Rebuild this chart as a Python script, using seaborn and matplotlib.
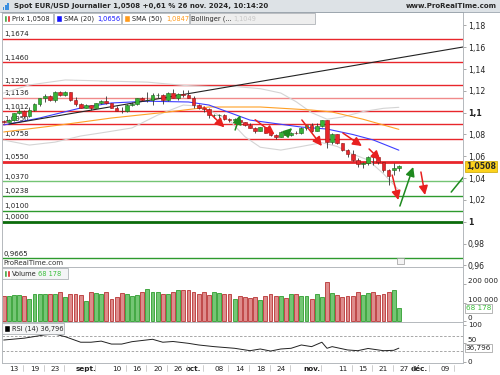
import numpy as np
import pandas as pd
import matplotlib.pyplot as plt
import seaborn as sns
from matplotlib.patches import Rectangle

# daily EUR/USD candles, 9 Aug -> 26 Nov 2024 (78 sessions)
opens = [1.0920, 1.0915, 1.0932, 1.0993, 1.1011, 1.0967, 1.1027, 1.1077, 1.1130, 1.1150,
         1.1113, 1.1191, 1.1162, 1.1185, 1.1120, 1.1077, 1.1047, 1.1067, 1.1045, 1.1088,
         1.1110, 1.1086, 1.1040, 1.1018, 1.1013, 1.1074, 1.1076, 1.1132, 1.1115, 1.1118,
         1.1160, 1.1164, 1.1112, 1.1180, 1.1135, 1.1175, 1.1165, 1.1135, 1.1068, 1.1045,
         1.1030, 1.0975, 1.0975, 1.0978, 1.0940, 1.0935, 1.0935, 1.0910, 1.0890, 1.0862,
         1.0833, 1.0866, 1.0818, 1.0796, 1.0780, 1.0827, 1.0795, 1.0815, 1.0814, 1.0855,
         1.0884, 1.0833, 1.0880, 1.0930, 1.0730, 1.0800, 1.0720, 1.0655, 1.0620, 1.0565,
         1.0530, 1.0540, 1.0597, 1.0595, 1.0545, 1.0470, 1.0470, 1.0495]
highs = [1.0935, 1.0945, 1.0999, 1.1047, 1.1020, 1.1048, 1.1087, 1.1133, 1.1174, 1.1160,
         1.1201, 1.1200, 1.1202, 1.1190, 1.1140, 1.1085, 1.1078, 1.1070, 1.1090, 1.1120,
         1.1155, 1.1090, 1.1060, 1.1050, 1.1077, 1.1097, 1.1137, 1.1146, 1.1189, 1.1180,
         1.1180, 1.1168, 1.1190, 1.1214, 1.1180, 1.1210, 1.1208, 1.1150, 1.1080, 1.1060,
         1.1040, 1.0990, 1.0990, 1.0985, 1.0950, 1.0950, 1.0940, 1.0915, 1.0905, 1.0870,
         1.0870, 1.0870, 1.0830, 1.0805, 1.0830, 1.0840, 1.0825, 1.0830, 1.0870, 1.0890,
         1.0905, 1.0905, 1.0937, 1.0936, 1.0810, 1.0805, 1.0725, 1.0665, 1.0655, 1.0580,
         1.0550, 1.0600, 1.0610, 1.0610, 1.0550, 1.0480, 1.0540, 1.0520]
lows = [1.0905, 1.0910, 1.0925, 1.0985, 1.0950, 1.0960, 1.1015, 1.1065, 1.1100, 1.1106,
        1.1100, 1.1150, 1.1150, 1.1105, 1.1060, 1.1040, 1.1045, 1.1025, 1.1040, 1.1075,
        1.1080, 1.1040, 1.1017, 1.1001, 1.1005, 1.1060, 1.1070, 1.1110, 1.1100, 1.1070,
        1.1130, 1.1083, 1.1110, 1.1130, 1.1120, 1.1140, 1.1130, 1.1045, 1.1030, 1.1005,
        1.0950, 1.0955, 1.0955, 1.0935, 1.0918, 1.0925, 1.0905, 1.0880, 1.0860, 1.0810,
        1.0830, 1.0810, 1.0790, 1.0760, 1.0775, 1.0800, 1.0790, 1.0800, 1.0800, 1.0840,
        1.0825, 1.0830, 1.0870, 1.0680, 1.0715, 1.0710, 1.0650, 1.0595, 1.0560, 1.0500,
        1.0496, 1.0520, 1.0520, 1.0530, 1.0460, 1.0333, 1.0425, 1.0465]
closes = [1.0917, 1.0932, 1.0993, 1.1011, 1.0967, 1.1027, 1.1077, 1.1130, 1.1150, 1.1113,
          1.1191, 1.1162, 1.1185, 1.1120, 1.1077, 1.1047, 1.1067, 1.1045, 1.1088, 1.1110,
          1.1086, 1.1040, 1.1018, 1.1013, 1.1074, 1.1076, 1.1132, 1.1115, 1.1118, 1.1160,
          1.1164, 1.1112, 1.1180, 1.1135, 1.1175, 1.1165, 1.1135, 1.1068, 1.1045, 1.1030,
          1.0975, 1.0975, 1.0978, 1.0940, 1.0935, 1.0935, 1.0910, 1.0890, 1.0862, 1.0833,
          1.0866, 1.0818, 1.0796, 1.0780, 1.0827, 1.0795, 1.0815, 1.0814, 1.0855, 1.0884,
          1.0833, 1.0880, 1.0930, 1.0730, 1.0800, 1.0720, 1.0655, 1.0620, 1.0565, 1.0530,
          1.0540, 1.0597, 1.0595, 1.0545, 1.0470, 1.0418, 1.0495, 1.0508]
volume = [136, 136, 142, 142, 136, 120, 147, 147, 147, 147,
          147, 156, 131, 147, 147, 142, 109, 156, 153, 147,
          156, 122, 131, 153, 147, 136, 142, 156, 174, 156,
          156, 147, 147, 156, 167, 171, 167, 160, 147, 160,
          142, 156, 153, 147, 147, 120, 136, 131, 127, 131,
          114, 138, 145, 135, 135, 125, 145, 145, 135, 135,
          118, 145, 131, 214, 151, 142, 131, 138, 138, 156,
          142, 151, 156, 142, 147, 156, 167, 68.178]  # thousands

# indicators (session index, value)
sma20_i = [0, 7, 15, 21, 28, 36, 40, 48, 53, 58, 63, 68, 72, 77]
sma20_v = [1.0887, 1.0951, 1.1043, 1.1089, 1.1105, 1.1098, 1.1070, 1.0932, 1.0900, 1.0868, 1.0850, 1.0800, 1.0750, 1.0656]
sma50_i = [0, 11, 21, 32, 40, 50, 60, 64, 70, 77]
sma50_v = [1.0823, 1.0887, 1.0951, 1.1006, 1.1052, 1.1052, 1.1024, 1.1006, 1.0940, 1.0847]
boll_up_i = [0, 5, 12, 20, 28, 35, 40, 45, 50, 54, 57, 60, 63, 66, 70, 74, 77]
boll_up_v = [1.118, 1.1254, 1.130, 1.129, 1.128, 1.125, 1.124, 1.124, 1.122, 1.118, 1.110, 1.100, 1.094, 1.096, 1.101, 1.104, 1.1049]
boll_lo_i = [0, 5, 10, 15, 20, 25, 30, 35, 38, 41, 44, 47, 50, 54, 58, 62, 65, 68, 71, 74, 77]
boll_lo_v = [1.0749, 1.0703, 1.073, 1.0786, 1.0822, 1.086, 1.0978, 1.107, 1.106, 1.100, 1.093, 1.078,
             1.0683, 1.0657, 1.069, 1.0725, 1.069, 1.062, 1.0566, 1.044, 1.029]
rsi_i = [0, 4, 8, 10, 12, 15, 17, 19, 21, 23, 25, 29, 31, 33, 36, 38, 41, 45, 48, 50, 52, 54,
         56, 58, 60, 62, 63, 64, 67, 69, 71, 74, 76, 77]
rsi_v = [59, 64, 73, 75, 68, 53, 53, 56, 48, 48, 54.5, 61, 53, 55, 50, 45.5, 41, 36.5, 30, 34.6, 29, 34.6,
         36.5, 45.5, 41, 53, 36.5, 41, 32, 30, 36, 30, 31, 36.796]

# support / resistance levels drawn on the chart
levels = [1.1674, 1.1460, 1.1250, 1.1136, 1.1012, 1.0900, 1.0758, 1.0550, 1.0370, 1.0238, 1.0100, 1.0000, 0.9665]
level_labels = ["1,1674", "1,1460", "1,1250", "1,1136", "1,1012", "1,0950", "1,0758",
                "1,0550", "1,0370", "1,0238", "1,0100", "1,0000", "0,9665"]
level_colors = ["#e8262b", "#e8262b", "#e8262b", "#f08a8a", "#e8262b", "#e8262b", "#e8262b",
                "#e8262b", "#74c474", "#2e9a2e", "#2e9a2e", "#0b6b0b", "#2e9a2e"]
level_widths = [1, 1, 1, 1, 1, 1, 1, 2, 1, 1, 1, 2, 1]

trend_i = [1, 89.5]
trend_v = [1.0895, 1.1602]

# hand-drawn arrows: (x0, y0, x1, y1, colour)
arrows = [
    (39.0, 1.1050, 43.0, 1.0865, "red"),
    (45.1, 1.0841, 46.1, 1.0978, "green"),
    (49.0, 1.0935, 52.8, 1.0800, "red"),
    (54.8, 1.0795, 56.2, 1.0859, "green"),
    (58.1, 1.0933, 62.0, 1.0694, "red"),
    (66.1, 1.0813, 69.8, 1.0694, "red"),
    (71.2, 1.0667, 73.4, 1.0566, "red"),
    (75.7, 1.0428, 76.9, 1.0199, "red"),
    (77.2, 1.0144, 79.8, 1.0502, "green"),
    (81.3, 1.0456, 82.1, 1.0245, "red"),
]
end_line = ([87.2, 89.6], [1.0272, 1.0410])

price_ticks = [0.96, 0.98, 1.00, 1.02, 1.04, 1.06, 1.08, 1.10, 1.12, 1.14, 1.16, 1.18]
price_tick_labels = ["0,96", "0,98", "1", "1,02", "1,04", "1,06", "1,08", "1,1", "1,12", "1,14", "1,16", "1,18"]
date_pos = [2, 6, 10, 16, 22, 26, 30, 34, 37, 42, 46, 50, 54, 60, 66, 70, 74, 78, 81, 86]
date_labels = ["13", "19", "23", "sept.", "10", "16", "20", "26", "oct.", "08", "14", "18", "24",
               "nov.", "11", "15", "21", "27", "déc.", "09"]

sns.set_style("white")
plt.rcParams["font.family"] = ["DejaVu Sans"]

o = np.array(opens)
h = np.array(highs)
l = np.array(lows)
c = np.array(closes)
idx = np.arange(len(c))
up = c >= o

GREEN = "#36b336"
RED = "#e8262b"
RED_ARROW = "#e8201f"
GREEN_ARROW = "#1f8a1f"
GRID = "#b4b8bc"

fig = plt.figure(figsize=(5, 3.75), dpi=100)


def fx(px):
    return px / 500


def fy(py):
    return 1 - py / 375


left, right = 2, 463
ax = fig.add_axes([fx(left), fy(267), fx(right) - fx(left), fy(12) - fy(267)])
ax_vol = fig.add_axes([fx(left), fy(322), fx(right) - fx(left), fy(267) - fy(322)])
ax_rsi = fig.add_axes([fx(left), fy(363), fx(right) - fx(left), fy(322) - fy(363)])

# ---- price panel
for lvl, col, lw in zip(levels, level_colors, level_widths):
    ax.axhline(lvl, color=col, lw=lw, zorder=1)
for lvl, lbl in zip(levels, level_labels):
    ax.annotate(lbl, xy=(0.004, lvl), xycoords=ax.get_yaxis_transform(), xytext=(0, 1.2),
                textcoords="offset points", va="bottom", ha="left", fontsize=5, color="#222", zorder=2)

sns.lineplot(x=boll_up_i, y=boll_up_v, ax=ax, color="#d4d4d4", lw=0.8, zorder=2)
sns.lineplot(x=boll_lo_i, y=boll_lo_v, ax=ax, color="#d4d4d4", lw=0.8, zorder=2)
sns.lineplot(x=sma50_i, y=sma50_v, ax=ax, color="#ffa126", lw=0.8, zorder=2)
sns.lineplot(x=sma20_i, y=sma20_v, ax=ax, color="#3d3dff", lw=0.8, zorder=2)
sns.lineplot(x=trend_i, y=trend_v, ax=ax, color="#222222", lw=0.8, zorder=2)

body_lo = np.minimum(o, c)
body_h = np.maximum(np.abs(c - o), 0.0003)
ax.vlines(idx, l, h, color="#333333", lw=0.6, zorder=3)
ax.bar(idx[up], body_h[up], bottom=body_lo[up], width=0.72, color=GREEN, edgecolor="#1b661b", lw=0.4, zorder=4)
ax.bar(idx[~up], body_h[~up], bottom=body_lo[~up], width=0.72, color=RED, edgecolor="#8c1414", lw=0.4, zorder=4)

for x0, y0, x1, y1, col in arrows:
    colour = RED_ARROW if col == "red" else GREEN_ARROW
    ax.annotate("", xy=(x1, y1), xytext=(x0, y0), zorder=5,
                arrowprops=dict(arrowstyle="-|>,head_length=0.6,head_width=0.3", color=colour,
                                lw=1.1, shrinkA=0, shrinkB=0, mutation_scale=9))
ax.plot(end_line[0], end_line[1], color=GREEN_ARROW, lw=1.1, zorder=5)

ax.set_ylim(0.9585, 1.1923)
ax.yaxis.tick_right()
ax.set_yticks(price_ticks)
ax.set_yticklabels(price_tick_labels)
for t in ax.get_yticklabels():
    if t.get_text() in ("1", "1,1"):
        t.set_fontweight("bold")
ax.text(1.006, closes[-1], "1,0508", transform=ax.get_yaxis_transform(), fontsize=5.6, fontweight="bold",
        va="center", ha="left", zorder=6,
        bbox=dict(boxstyle="square,pad=0.15", fc="#fcd21c", ec="#c9a400", lw=0.5), clip_on=False)
ax.text(0.003, 0.004, "ProRealTime.com", transform=ax.transAxes, fontsize=5, color="#333", va="bottom")

# ---- volume panel
vol_df = pd.DataFrame({"i": idx, "vol": np.array(volume) * 1000,
                       "dir": np.where(up, "up", "down")})
sns.barplot(data=vol_df, x="i", y="vol", hue="dir", palette={"up": "#66d466", "down": "#ec7e7e"},
            native_scale=True, width=0.75, dodge=False, legend=False, errorbar=None, ax=ax_vol, lw=0.6)
for p in ax_vol.patches:
    fcol = p.get_facecolor()
    p.set_edgecolor("#2f9e2f" if fcol[1] > fcol[0] else "#b83434")
ax_vol.set_ylim(-5400, 294000)
ax_vol.yaxis.tick_right()
ax_vol.set_yticks([0, 100000, 200000])
ax_vol.set_yticklabels(["0", "100 000", "200 000"], va="bottom")
ax_vol.text(1.006, volume[-1] * 1000, "68 178", transform=ax_vol.get_yaxis_transform(), fontsize=5.2,
            color="#3cbf3c", va="center", ha="left", zorder=6, clip_on=False,
            bbox=dict(boxstyle="square,pad=0.15", fc="white", ec="#999", lw=0.5))

# ---- RSI panel
ax_rsi.axhline(70, color="#999999", lw=0.6, ls=(0, (3, 2)))
ax_rsi.axhline(30, color="#999999", lw=0.6, ls=(0, (3, 2)))
sns.lineplot(x=rsi_i, y=rsi_v, ax=ax_rsi, color="#222222", lw=0.7)
ax_rsi.set_ylim(-3.5, 108)
ax_rsi.yaxis.tick_right()
ax_rsi.set_yticks([0, 50, 100])
ax_rsi.set_yticklabels(["0", "50", "100"])
for t in ax_rsi.get_yticklabels():
    if t.get_text() == "50":
        t.set_va("bottom")
ax_rsi.text(1.006, rsi_v[-1], "36,796", transform=ax_rsi.get_yaxis_transform(), fontsize=5.2,
            va="center", ha="left", zorder=6, clip_on=False,
            bbox=dict(boxstyle="square,pad=0.15", fc="white", ec="#999", lw=0.5))

ax_rsi.set_xticks(date_pos)
ax_rsi.set_xticklabels(date_labels)
for t in ax_rsi.get_xticklabels():
    if t.get_text().endswith("."):
        t.set_fontweight("bold")
ax_rsi.tick_params(axis="x", length=0, pad=2, labelsize=5.2, labelcolor="#222")
for p in date_pos:
    ax_rsi.plot([p + 1.8, p + 1.8], [-0.06, -0.2], transform=ax_rsi.get_xaxis_transform(),
                color="#bbbbbb", lw=0.5, clip_on=False)

for a in (ax, ax_vol, ax_rsi):
    a.set_xlim(-0.33, 89.5)
    a.set_xlabel("")
    a.set_ylabel("")
    a.tick_params(axis="y", length=2, width=0.5, color="#888", pad=1.5, labelsize=5.6, labelcolor="#222")
    for s in a.spines.values():
        s.set_color(GRID)
        s.set_linewidth(0.7)
ax.tick_params(axis="x", bottom=False, labelbottom=False)
ax_vol.tick_params(axis="x", bottom=False, labelbottom=False)
ax_vol.tick_params(axis="y", labelsize=5.2)
ax_rsi.tick_params(axis="y", labelsize=5.2)

# small icon on price panel bottom
ax.add_patch(Rectangle((0.857, 0.01), 0.014, 0.025, transform=ax.transAxes,
                       fc="#f4f4f4", ec="#999", lw=0.5, zorder=6))

# ---- header
fig.patches.append(Rectangle((0, fy(12)), 1, 12 / 375, transform=fig.transFigure,
                             fc="#dde2e6", ec="none", zorder=1))
fig.lines.append(plt.Line2D([0, 1], [fy(12), fy(12)], transform=fig.transFigure, color="#9aa4ad", lw=0.6))
for k, hh in enumerate([3, 5, 7]):
    fig.patches.append(Rectangle((fx(3 + k * 2.2), fy(10)), fx(1.4), hh / 375, transform=fig.transFigure,
                                 fc="#3a8ee0", ec="none", zorder=2))
fig.text(fx(14), fy(6), "Spot EUR/USD Journalier 1,0508 +0,61 % 26 nov. 2024, 10:14:20",
         fontsize=5, fontweight="bold", va="center", ha="left")
fig.text(fx(497), fy(6), "www.ProRealTime.com", fontsize=5, fontweight="bold", va="center", ha="right")

# ---- legend row
boxes = [(2, 53, "white"), (54, 121, "white"), (122, 189, "white"), (190, 315, "#eeeeee")]
for x0, x1, fc in boxes:
    fig.patches.append(Rectangle((fx(x0), fy(24)), fx(x1 - x0), 11 / 375, transform=fig.transFigure,
                                 fc=fc, ec="#b0b4b8", lw=0.6, zorder=3))
fig.patches.append(Rectangle((fx(4), fy(22)), fx(3), 7 / 375, transform=fig.transFigure, fc="#2a9a2a", zorder=4))
fig.patches.append(Rectangle((fx(7), fy(22)), fx(3), 7 / 375, transform=fig.transFigure, fc="#e02020", zorder=4))
fig.patches.append(Rectangle((fx(56), fy(22)), fx(6), 7 / 375, transform=fig.transFigure, fc="#1414ff", zorder=4))
fig.patches.append(Rectangle((fx(124), fy(22)), fx(6), 7 / 375, transform=fig.transFigure, fc="#ff9a1a", zorder=4))
ty = fy(18.5)
fig.text(fx(12), ty, "Prix 1,0508", fontsize=4.8, va="center", zorder=5)
fig.text(fx(64), ty, "SMA (20)", fontsize=4.8, va="center", zorder=5)
fig.text(fx(97), ty, "1,0656", fontsize=4.8, va="center", color="#1414ff", zorder=5)
fig.text(fx(132), ty, "SMA (50)", fontsize=4.8, va="center", zorder=5)
fig.text(fx(166), ty, "1,0847", fontsize=4.8, va="center", color="#ff9a1a", zorder=5)
fig.text(fx(191), ty, "Bollinger (...", fontsize=4.8, va="center", zorder=5)
fig.text(fx(233), ty, "1,1049", fontsize=4.8, va="center", color="#c8c8c8", zorder=5)

# ---- panel labels
fig.patches.append(Rectangle((fx(2), fy(279)), fx(66), 11 / 375, transform=fig.transFigure,
                             fc="#f4f5f6", ec="#b0b4b8", lw=0.6, zorder=3))
fig.patches.append(Rectangle((fx(4), fy(277)), fx(3), 7 / 375, transform=fig.transFigure, fc="#2a9a2a", zorder=4))
fig.patches.append(Rectangle((fx(7), fy(277)), fx(3), 7 / 375, transform=fig.transFigure, fc="#e02020", zorder=4))
fig.text(fx(12), fy(273.5), "Volume", fontsize=4.8, va="center", zorder=5)
fig.text(fx(38), fy(273.5), "68 178", fontsize=4.8, va="center", color="#3cbf3c", zorder=5)
fig.patches.append(Rectangle((fx(2), fy(334)), fx(62), 11 / 375, transform=fig.transFigure,
                             fc="#f4f5f6", ec="#b0b4b8", lw=0.6, zorder=3))
fig.patches.append(Rectangle((fx(4), fy(332)), fx(6), 7 / 375, transform=fig.transFigure, fc="black", zorder=4))
fig.text(fx(12), fy(328.5), "RSI (14) 36,796", fontsize=4.8, va="center", zorder=5)

fig.savefig("out.png", dpi=100)
